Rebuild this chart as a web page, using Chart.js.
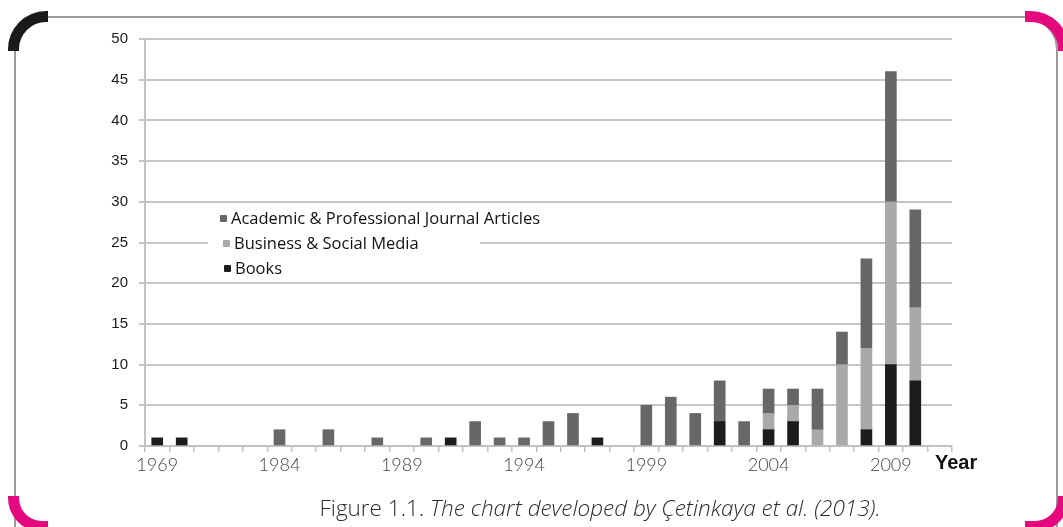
<!DOCTYPE html>
<html>
<head>
<meta charset="utf-8">
<title>Publications per year</title>
<script src="https://cdn.jsdelivr.net/npm/chart.js@4"></script>
<style>
  html, body { margin: 0; padding: 0; background: #fff; }
  #wrap { position: relative; width: 1063px; height: 527px; overflow: hidden; }
  #chart { position: absolute; left: 0; top: 0; }
  .frame { position: absolute; left: 14px; top: 16px; width: 1044px; height: 560px;
           border: 2px solid #9a9a9a; border-radius: 34px; box-sizing: border-box; }
  .corner { position: absolute; box-sizing: border-box; width: 40px; height: 40px; }
  .tl { left: 8px; top: 11px; border-top: 11px solid #1a1a1a; border-left: 11px solid #1a1a1a; border-top-left-radius: 38px; }
  .tr { left: 1025px; top: 11px; border-top: 11px solid #e5097f; border-right: 11px solid #e5097f; border-top-right-radius: 38px; width: 44px; }
  .bl { left: 8px; top: 496px; border-bottom: 11px solid #e5097f; border-left: 11px solid #e5097f; border-bottom-left-radius: 34px; height: 36px; }
  .br { left: 1025px; top: 496px; border-bottom: 11px solid #e5097f; border-right: 11px solid #e5097f; border-bottom-right-radius: 34px; height: 36px; width: 44px; }
  #legend { position: absolute; left: 208px; top: 208px; width: 272px; height: 70px; background: #fff;
            font-family: "Open Sans", sans-serif; font-size: 16.5px; color: #111; }
  #legend div { position: absolute; white-space: nowrap; line-height: 18px; }
  #legend span { display: inline-block; width: 7px; height: 7px; margin-right: 4px; vertical-align: 2px; border-radius: 1px; }
  #caption { position: absolute; left: 0; width: 1200px; top: 492px; text-align: center;
             font-family: "Open Sans", sans-serif; font-size: 22.5px; color: #2a2a2a; font-weight: 300; }
</style>
</head>
<body>
<div id="wrap">
  <div class="frame"></div>
  <div class="corner tl"></div>
  <div class="corner tr"></div>
  <div class="corner bl"></div>
  <div class="corner br"></div>
  <canvas id="chart" width="1063" height="527"></canvas>
  <div id="legend"></div>
  <div id="caption">Figure 1.1. <i>The chart developed by Çetinkaya et al. (2013).</i></div>
</div>
<script>
// categories on the x axis (only every fifth one gets a label)
const years = ['1969', '1970', '1975', '1980', '1982', '1984', '1985', '1986', '1987', '1988',
  '1989', '1990', '1991', '1992', '1993', '1994', '1995', '1996', '1997', '1998',
  '1999', '2000', '2001', '2002', '2003', '2004', '2005', '2006', '2007', '2008',
  '2009', '2010', '2011'];

const books = [1, 1, 0, 0, 0, 0, 0, 0, 0, 0,
  0, 0, 1, 0, 0, 0, 0, 0, 1, 0,
  0, 0, 0, 3, 0, 2, 3, 0, 0, 2,
  10, 8, 0];

const business = [0, 0, 0, 0, 0, 0, 0, 0, 0, 0,
  0, 0, 0, 0, 0, 0, 0, 0, 0, 0,
  0, 0, 0, 0, 0, 2, 2, 2, 10, 10,
  20, 9, 0];

const academic = [0, 0, 0, 0, 0, 2, 0, 2, 0, 1,
  0, 1, 0, 3, 1, 1, 3, 4, 0, 0,
  5, 6, 4, 5, 3, 3, 2, 5, 4, 11,
  16, 12, 0];

const seriesNames = ['Books', 'Business & Social Media', 'Academic & Professional Journal Articles'];
const seriesColors = ['#1c1c1c', '#a9a9a9', '#676767'];
const yTicks = [0, 5, 10, 15, 20, 25, 30, 35, 40, 45, 50];

const nz = arr => arr.map(v => (v === 0 ? null : v));

// legend drawn as html, academic on top
const legend = document.getElementById('legend');
[[2, 1, 12], [1, 26, 15], [0, 51, 16]].forEach(([i, top, left]) => {
  const row = document.createElement('div');
  row.style.top = top + 'px';
  row.style.left = left + 'px';
  row.innerHTML = `<span style="background:${seriesColors[i]}"></span>${seriesNames[i]}`;
  legend.appendChild(row);
});

const yearLabel = {
  id: 'yearLabel',
  afterDraw(chart) {
    const { ctx, chartArea } = chart;
    ctx.save();
    ctx.font = 'bold 20px "Liberation Sans", Arial, sans-serif';
    ctx.fillStyle = '#111';
    ctx.textBaseline = 'middle';
    ctx.fillText('Year', chartArea.right - 17, chartArea.bottom + 17);
    ctx.restore();
  }
};

new Chart(document.getElementById('chart'), {
  type: 'bar',
  data: {
    labels: years,
    datasets: [books, business, academic].map((d, i) => ({
      label: seriesNames[i],
      data: nz(d),
      backgroundColor: seriesColors[i],
      borderWidth: 0,
      barThickness: 11
    }))
  },
  plugins: [yearLabel],
  options: {
    responsive: false,
    animation: false,
    layout: { padding: { left: 60, right: 111, top: 39, bottom: 51 } },
    plugins: { legend: { display: false }, tooltip: { enabled: false } },
    scales: {
      x: {
        stacked: true,
        afterFit: s => { s.height = 30; },
        grid: { drawOnChartArea: false, tickLength: 6, color: '#c2c2c2', lineWidth: 1.5 },
        border: { color: '#c2c2c2', width: 2 },
        ticks: {
          autoSkip: false,
          maxRotation: 0,
          padding: 2,
          color: '#444',
          font: { family: 'Lato, "Open Sans", sans-serif', size: 18, weight: 300 },
          callback: (v, i) => (i % 5 === 0 ? years[i] : '')
        }
      },
      y: {
        stacked: true,
        min: 0,
        max: 50,
        afterFit: s => { s.width = 85; },
        afterBuildTicks: s => { s.ticks = yTicks.map(v => ({ value: v })); },
        grid: { color: '#c6c6c6', lineWidth: 2, tickLength: 6 },
        border: { color: '#c2c2c2', width: 2 },
        ticks: {
          padding: 11,
          color: '#1a1a1a',
          font: { family: '"Liberation Sans", Arial, sans-serif', size: 15 }
        }
      }
    }
  }
});
</script>
</body>
</html>
